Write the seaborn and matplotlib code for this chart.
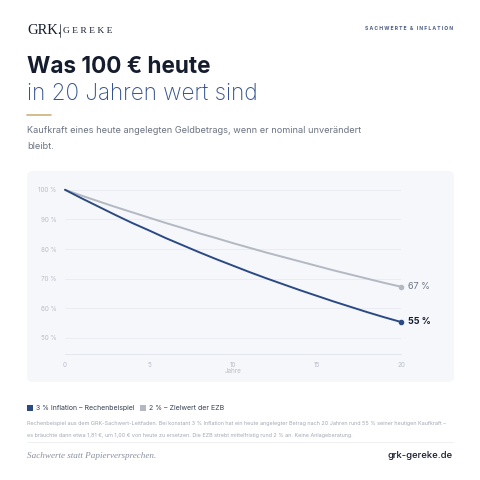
import matplotlib
matplotlib.use('Agg')
import pandas as pd
import matplotlib.pyplot as plt
import seaborn as sns
from matplotlib.patches import FancyBboxPatch, Rectangle
from matplotlib.lines import Line2D

# Kaufkraft von 100 € (in %) nach Jahren
years = list(range(0, 21))
inflation_3 = [100, 97.1, 94.3, 91.5, 88.8, 86.3, 83.7, 81.3, 78.9, 76.6, 74.4,
               72.2, 70.1, 68.1, 66.1, 64.2, 62.3, 60.5, 58.7, 57.0, 55.4]
inflation_2 = [100, 98.0, 96.1, 94.2, 92.4, 90.6, 88.8, 87.1, 85.3, 83.7, 82.0,
               80.4, 78.8, 77.3, 75.8, 74.3, 72.8, 71.4, 70.0, 68.6, 67.3]
y_ticks = [50, 60, 70, 80, 90, 100]
x_ticks = [0, 5, 10, 15, 20]
series_names = ['3 % Inflation – Rechenbeispiel', '2 % – Zielwert der EZB']

NAVY = '#2b4a84'
GREY_LINE = '#b3b8c2'
DARK = '#141c2e'
BLUE_TXT = '#34528f'
TICK = '#b9bdc7'

df = pd.DataFrame({
    'Jahr': years * 2,
    'Kaufkraft': inflation_3 + inflation_2,
    'Szenario': [series_names[0]] * len(years) + [series_names[1]] * len(years),
})

sns.set_theme(style='white')
plt.rcParams['font.family'] = ['Inter', 'DejaVu Sans']

fig = plt.figure(figsize=(4.8, 4.8), dpi=100)
fig.patch.set_facecolor('white')

# chart panel
panel = FancyBboxPatch((27 / 480, 1 - 382 / 480), 427 / 480, 211 / 480,
                       boxstyle='round,pad=0,rounding_size=0.012',
                       transform=fig.transFigure, facecolor='#f5f7fb',
                       edgecolor='none', zorder=-1)
fig.patches.append(panel)

ax = fig.add_axes([65 / 480, 1 - 354 / 480, 336 / 480, 166 / 480])
ax.set_zorder(2)
ax.set_facecolor('none')
sns.lineplot(data=df, x='Jahr', y='Kaufkraft', hue='Szenario',
             palette={series_names[0]: NAVY, series_names[1]: GREY_LINE},
             hue_order=[series_names[1], series_names[0]],
             linewidth=1.4, legend=False, ax=ax, clip_on=False)

# end markers + labels
ax.scatter([years[-1]], [inflation_2[-1]], s=9, color=GREY_LINE, zorder=5, clip_on=False)
ax.scatter([years[-1]], [inflation_3[-1]], s=9, color=NAVY, zorder=5, clip_on=False)
ax.annotate(f'{round(inflation_2[-1])} %', (years[-1], inflation_2[-1]), xytext=(5, 0),
            textcoords='offset points', va='center', fontsize=6.5, color='#6b7280')
ax.annotate(f'{round(inflation_3[-1])} %', (years[-1], inflation_3[-1]), xytext=(5, 0),
            textcoords='offset points', va='center', fontsize=6.5, color=DARK,
            fontweight='bold')

ax.set_xlim(0, 20)
ax.set_ylim(44.6, 100.6)
ax.set_yticks(y_ticks)
ax.set_yticklabels([f'{v} %' for v in y_ticks])
ax.set_xticks(x_ticks)
ax.tick_params(axis='both', length=0, labelsize=4.5, labelcolor=TICK)
ax.tick_params(axis='y', pad=6)
ax.tick_params(axis='x', pad=6)
ax.set_ylabel('')
ax.set_xlabel('Jahre', fontsize=4.5, color=TICK, labelpad=-0.5)
ax.grid(axis='y', color='#e8ebf1', linewidth=0.6)
for s in ['top', 'right', 'left']:
    ax.spines[s].set_visible(False)
ax.spines['bottom'].set_color('#e3e6ec')
ax.spines['bottom'].set_linewidth(0.7)

# header
fig.text(27 / 480, 1 - 31 / 480, 'GRK.', family=['Liberation Serif', 'DejaVu Serif'],
         fontsize=10.5, color=DARK, va='center')
fig.add_artist(Line2D([60 / 480, 60 / 480], [1 - 24 / 480, 1 - 37 / 480],
                      transform=fig.transFigure, color=DARK, linewidth=0.5))
fig.text(63 / 480, 1 - 31 / 480, 'G E R E K E', family=['Liberation Serif', 'DejaVu Serif'],
         fontsize=6.8, color=DARK, va='center')
fig.text(453 / 480, 1 - 28 / 480, 'S A C H W E R T E   &   I N F L A T I O N', fontsize=3.6,
         color='#4a5a80', ha='right', va='center', fontweight='bold')

fig.text(27 / 480, 1 - 73 / 480, 'Was 100 € heute', fontsize=16.2, fontweight='bold',
         color=DARK, va='baseline')
fig.text(27 / 480, 1 - 100 / 480, 'in 20 Jahren wert sind', fontsize=16.2, fontweight='light',
         color=BLUE_TXT, va='baseline')
fig.add_artist(Line2D([27 / 480, 51 / 480], [1 - 115 / 480, 1 - 115 / 480],
                      transform=fig.transFigure, color='#cdb27a', linewidth=1.2))
fig.text(27 / 480, 1 - 133 / 480, 'Kaufkraft eines heute angelegten Geldbetrags, wenn er nominal unverändert',
         fontsize=6.6, color='#6b7280', va='baseline')
fig.text(27 / 480, 1 - 149 / 480, 'bleibt.', fontsize=6.6, color='#6b7280', va='baseline')

# legend
fig.patches.append(Rectangle((27 / 480, 1 - 411 / 480), 6 / 480, 6 / 480,
                             transform=fig.transFigure, facecolor=NAVY, edgecolor='none'))
fig.text(36 / 480, 1 - 408 / 480, series_names[0], fontsize=5.0, color='#374151', va='center')
fig.patches.append(Rectangle((140 / 480, 1 - 411 / 480), 6 / 480, 6 / 480,
                             transform=fig.transFigure, facecolor=GREY_LINE, edgecolor='none'))
fig.text(149 / 480, 1 - 408 / 480, series_names[1], fontsize=5.0, color='#374151', va='center')

fig.text(27 / 480, 1 - 424 / 480,
         'Rechenbeispiel aus dem GRK-Sachwert-Leitfaden. Bei konstant 3 % Inflation hat ein heute angelegter '
         'Betrag nach 20 Jahren rund 55 % seiner heutigen Kaufkraft –',
         fontsize=3.95, color='#a3a9b5', va='center')
fig.text(27 / 480, 1 - 435 / 480,
         'es bräuchte dann etwa 1,81 €, um 1,00 € von heute zu ersetzen. Die EZB strebt mittelfristig '
         'rund 2 % an. Keine Anlageberatung.',
         fontsize=3.95, color='#a3a9b5', va='center')
fig.add_artist(Line2D([27 / 480, 453 / 480], [1 - 442 / 480, 1 - 442 / 480],
                      transform=fig.transFigure, color='#eceef2', linewidth=0.6))

# footer
fig.text(27 / 480, 1 - 456 / 480, 'Sachwerte statt Papierversprechen.',
         family=['Liberation Serif', 'DejaVu Serif'], style='italic', fontsize=6.6,
         color='#8a90a0', va='center')
fig.text(453 / 480, 1 - 456 / 480, 'grk-gereke.de', fontsize=6.8, color=DARK,
         fontweight='medium', ha='right', va='center')

plt.savefig('out.png', dpi=100)
